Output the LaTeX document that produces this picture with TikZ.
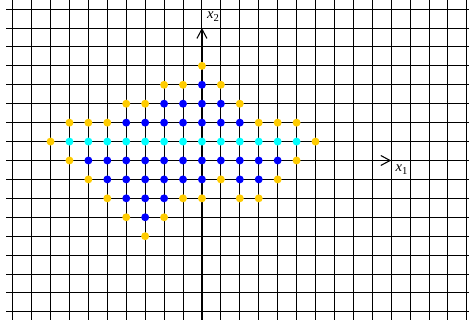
\documentclass[tikz,border=0pt]{standalone}
\usepackage{fontspec}
\setmainfont{Liberation Serif}
\usetikzlibrary{arrows.meta}
\definecolor{dotyellow}{RGB}{255,204,0}
\definecolor{dotblue}{RGB}{0,0,255}
\definecolor{dotcyan}{RGB}{0,255,255}
\newcommand{\axlab}[2]{\textit{#1}\raisebox{-0.45ex}{\footnotesize #2}}
\begin{document}
\begin{tikzpicture}[x=0.5cm,y=0.5cm,
  gridline/.style={black,line width=0.75pt},
  axis/.style={black,line width=0.9pt,-{Straight Barb[length=7pt,width=7.5pt,line width=0.8pt]}},
  ydot/.style={fill=dotyellow},
  bdot/.style={fill=dotblue},
  cdot/.style={fill=dotcyan},
  axlabel/.style={inner sep=0pt,font=\fontsize{11}{13}\selectfont}]
\useasboundingbox (-10.67,-8.58) rectangle (14.11,8.48);
\foreach \x in {-10,...,14} \draw[gridline] (\x,-8.42) -- (\x,8.48);
\foreach \y in {-8,...,8} \draw[gridline] (-10.35,\y) -- (14.11,\y);
\coordinate (xs) at (-10.35,0);
\coordinate (xe) at (10,0);
\coordinate (ys) at (0,-8.42);
\coordinate (ye) at (0,7);
\draw[axis] (xs) -- (xe);
\draw[axis] (ys) -- (ye);
\node[axlabel] (lx1) at (10.55,-0.5) {\axlab{x}{1}};
\node[axlabel] (lx2) at (0.58,7.6) {\axlab{x}{2}};
% cyan row
\foreach \x in {-7,...,5} \fill[cdot] (\x,1) circle[radius=0.21];
% blue dots
\foreach \x/\y in {0/4, -2/3,-1/3,0/3,1/3,
  -4/2,-3/2,-2/2,-1/2,0/2,1/2,2/2,
  -6/0,-5/0,-4/0,-3/0,-2/0,-1/0,0/0,1/0,2/0,3/0,4/0,
  -5/-1,-4/-1,-3/-1,-2/-1,-1/-1,0/-1,2/-1,3/-1,
  -4/-2,-3/-2,-2/-2, -3/-3}
  \fill[bdot] (\x,\y) circle[radius=0.21];
% yellow dots
\foreach \x/\y in {0/5, -2/4,-1/4,1/4, -4/3,-3/3,2/3,
  -7/2,-6/2,-5/2,3/2,4/2,5/2, -8/1,6/1, -7/0,5/0,
  -6/-1,1/-1,4/-1, -5/-2,-1/-2,0/-2,2/-2,3/-2,
  -4/-3,-2/-3, -3/-4}
  \fill[ydot] (\x,\y) circle[radius=0.21];
\end{tikzpicture}
\end{document}
